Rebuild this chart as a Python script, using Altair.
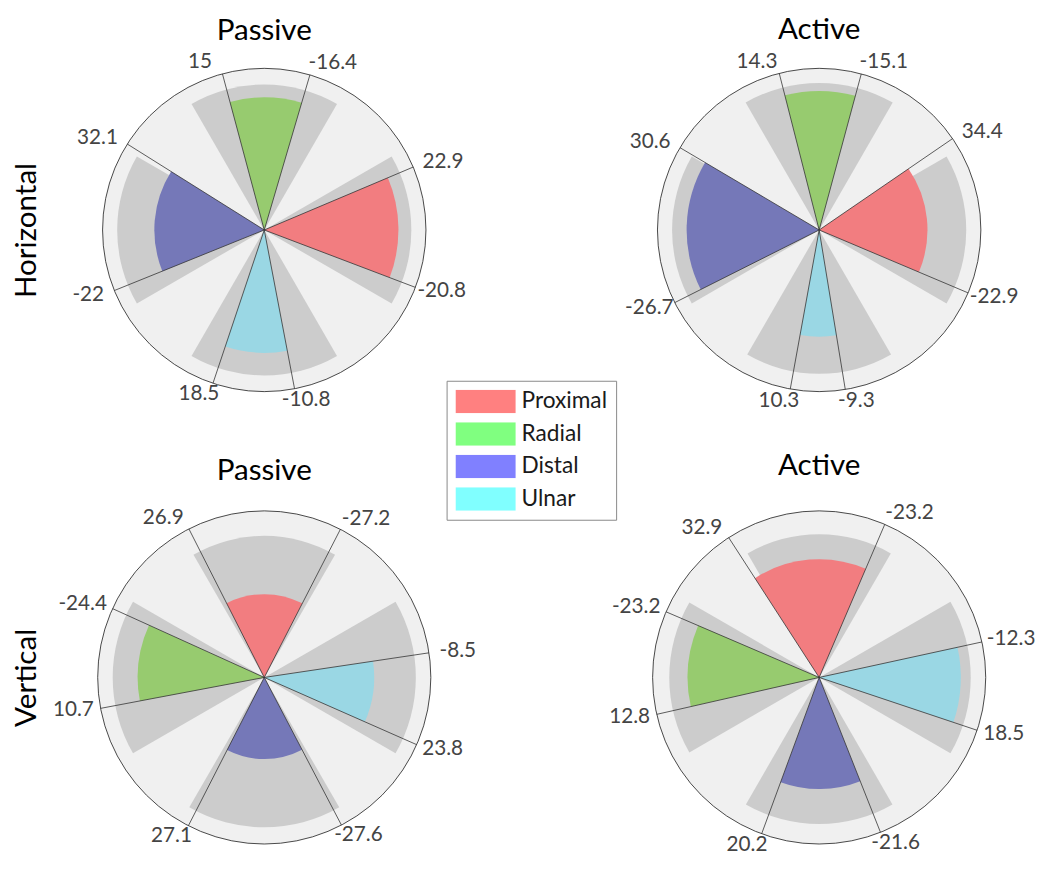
import math
import altair as alt
import pandas as pd

# ---------------- data ----------------
directions = ["Proximal", "Radial", "Distal", "Ulnar"]
legend_colors = ["#FF8080", "#80FF80", "#8080FF", "#80FFFF"]
wedge_colors = ["#F27D80", "#97CB6F", "#7578B8", "#9AD7E4"]

# sector direction (deg, counter-clockwise from the right) in each orientation
horizontal_dirs = [0, 90, 180, 270]
vertical_dirs = [90, 180, 270, 0]

# edge labels: counter-clockwise edge / clockwise edge of each sector
hp_ccw = [22.9, 15, -22, -10.8]
hp_cw = [-20.8, -16.4, 32.1, 18.5]
ha_ccw = [34.4, 14.3, -26.7, -9.3]
ha_cw = [-22.9, -15.1, 30.6, 10.3]
vp_ccw = [26.9, 10.7, -27.6, -8.5]
vp_cw = [-27.2, -24.4, 27.1, 23.8]
va_ccw = [32.9, 12.8, -21.6, -12.3]
va_cw = [-23.2, -23.2, 20.2, 18.5]

# colored sector length and grey sector length (fraction of the outer circle)
hp_mean = [0.83, 0.82, 0.68, 0.76]
hp_outer = [0.91, 0.90, 0.91, 0.90]
ha_mean = [0.67, 0.86, 0.82, 0.66]
ha_outer = [0.91, 0.91, 0.91, 0.89]
vp_mean = [0.50, 0.76, 0.49, 0.66]
vp_outer = [0.85, 0.91, 0.90, 0.91]
va_mean = [0.71, 0.79, 0.67, 0.85]
va_outer = [0.86, 0.90, 0.88, 0.91]

GREY_HALF_WIDTH = 30  # degrees each side of a sector direction

# ---------------- style ----------------
FONT = "Lato"
SIZE = 338
tscale = alt.Scale(domain=[-360, 360], range=[-2 * math.pi, 2 * math.pi], nice=False, zero=False)


def panel(title, dirs, ccw, cw, mean, outer, R, row_title=None, title_offset=21, with_legend=False):
    D = SIZE / (2 * R)
    xs = alt.Scale(domain=[-D, D], nice=False, zero=False)
    ys = alt.Scale(domain=[-D, D], nice=False, zero=False)
    rs = alt.Scale(type="linear", domain=[0, 1], range=[0, R], nice=False, zero=True)

    wedges, edges = [], []
    for name, d, a, b, m, o in zip(directions, dirs, ccw, cw, mean, outer):
        hi = d + abs(a)
        lo = d - abs(b)
        wedges.append(dict(direction=name, t0=90 - hi, t1=90 - lo, r=m,
                           g0=90 - (d + GREY_HALF_WIDTH), g1=90 - (d - GREY_HALF_WIDTH), rg=o))
        edges.append(dict(direction=name, phi=hi, label=f"{a:g}"))
        edges.append(dict(direction=name, phi=lo, label=f"{b:g}"))
    wdf = pd.DataFrame(wedges)
    edf = pd.DataFrame(edges)
    bgdf = pd.DataFrame([dict(t0=0, t1=360, r=1)])

    if row_title:
        yaxis = alt.Axis(title=row_title, labels=False, ticks=False, domain=False, grid=False,
                         titleFont=FONT, titleFontSize=30, titleFontWeight="normal",
                         titleColor="black", titlePadding=57)
    else:
        yaxis = None

    bg = alt.Chart(bgdf).mark_arc(fill="#F0F0F0", stroke="#1a1a1a", strokeWidth=0.8).encode(
        theta=alt.Theta("t0:Q", scale=tscale, stack=False),
        theta2="t1:Q",
        radius=alt.Radius("r:Q", scale=rs),
    )
    grey = alt.Chart(wdf).mark_arc(fill="#CCCCCC").encode(
        theta=alt.Theta("g0:Q", scale=tscale, stack=False),
        theta2="g1:Q",
        radius=alt.Radius("rg:Q", scale=rs),
    )
    colored = alt.Chart(wdf).mark_arc().encode(
        theta=alt.Theta("t0:Q", scale=tscale, stack=False),
        theta2="t1:Q",
        radius=alt.Radius("r:Q", scale=rs),
        fill=alt.Fill("direction:N", scale=alt.Scale(domain=directions, range=wedge_colors), legend=None),
    )
    rules = alt.Chart(edf).mark_rule(color="#333333", strokeWidth=0.8).transform_calculate(
        x0="0", y0="0",
        x1="cos(datum.phi*PI/180)", y1="sin(datum.phi*PI/180)",
    ).encode(
        x=alt.X("x0:Q", scale=xs, axis=None), x2="x1:Q",
        y=alt.Y("y0:Q", scale=ys, axis=yaxis), y2="y1:Q",
    )
    kr = 1 + 20 / R
    ky = 1 + 12 / R
    kh = 8 / R
    kt = 10 / R
    labels = alt.Chart(edf).mark_text(font=FONT, fontSize=21, color="#444444",
                                       align="center", baseline="middle").transform_calculate(
        c="cos(datum.phi*PI/180)", s="sin(datum.phi*PI/180)",
    ).transform_calculate(
        lx=f"datum.c*{kr} + (datum.c >= 0 ? 1 : -1)*({kh} + {kt}*max(datum.s, 0))",
        ly=f"datum.s*{ky}",
    ).encode(
        x=alt.X("lx:Q", scale=xs, axis=None),
        y=alt.Y("ly:Q", scale=ys, axis=yaxis),
        text="label:N",
    )
    layers = [bg, grey, colored, rules, labels]
    if with_legend:
        ldf = pd.DataFrame({"direction": directions})
        leg = alt.Chart(ldf).mark_point(size=1, filled=True, opacity=0).encode(
            color=alt.Color("direction:N",
                            scale=alt.Scale(domain=directions, range=legend_colors),
                            legend=alt.Legend(title=None, orient="none", legendX=354, legendY=322,
                                              symbolType="M-1,-0.3934H1V0.3934H-1Z", symbolSize=3721,
                                              symbolStrokeWidth=0, symbolOpacity=1,
                                              clipHeight=24,
                                              labelFont=FONT, labelFontSize=23, labelColor="#1a1a1a",
                                              labelOffset=6, labelLimit=0,
                                              strokeColor="#888888", fillColor="white",
                                              padding=9, rowPadding=9)),
        )
        layers.append(leg)
    return alt.layer(*layers).properties(
        width=SIZE, height=SIZE,
        title=alt.TitleParams(text=title, font=FONT, fontSize=30, fontWeight="normal", color="black",
                              offset=title_offset, anchor="middle", frame="group"),
    )


tl = panel("Passive", horizontal_dirs, hp_ccw, hp_cw, hp_mean, hp_outer, 164, "Horizontal", 6, True)
tr = panel("Active", horizontal_dirs, ha_ccw, ha_cw, ha_mean, ha_outer, 164, None, 6)
bl = panel("Passive", vertical_dirs, vp_ccw, vp_cw, vp_mean, vp_outer, 169, "Vertical", 22)
br = panel("Active", vertical_dirs, va_ccw, va_cw, va_mean, va_outer, 169, None, 22)

chart = alt.concat(
    tl, tr, bl, br, columns=2,
    spacing=alt.RowColnumber(row=116, column=225), bounds="flush",
    padding={"left": 3, "top": 0, "right": 0, "bottom": -3},
).resolve_scale(radius="independent").resolve_legend(color="independent").configure(
    font=FONT).configure_view(stroke="transparent")

chart.save("out.html", embed_options={"renderer": "svg", "actions": False})
